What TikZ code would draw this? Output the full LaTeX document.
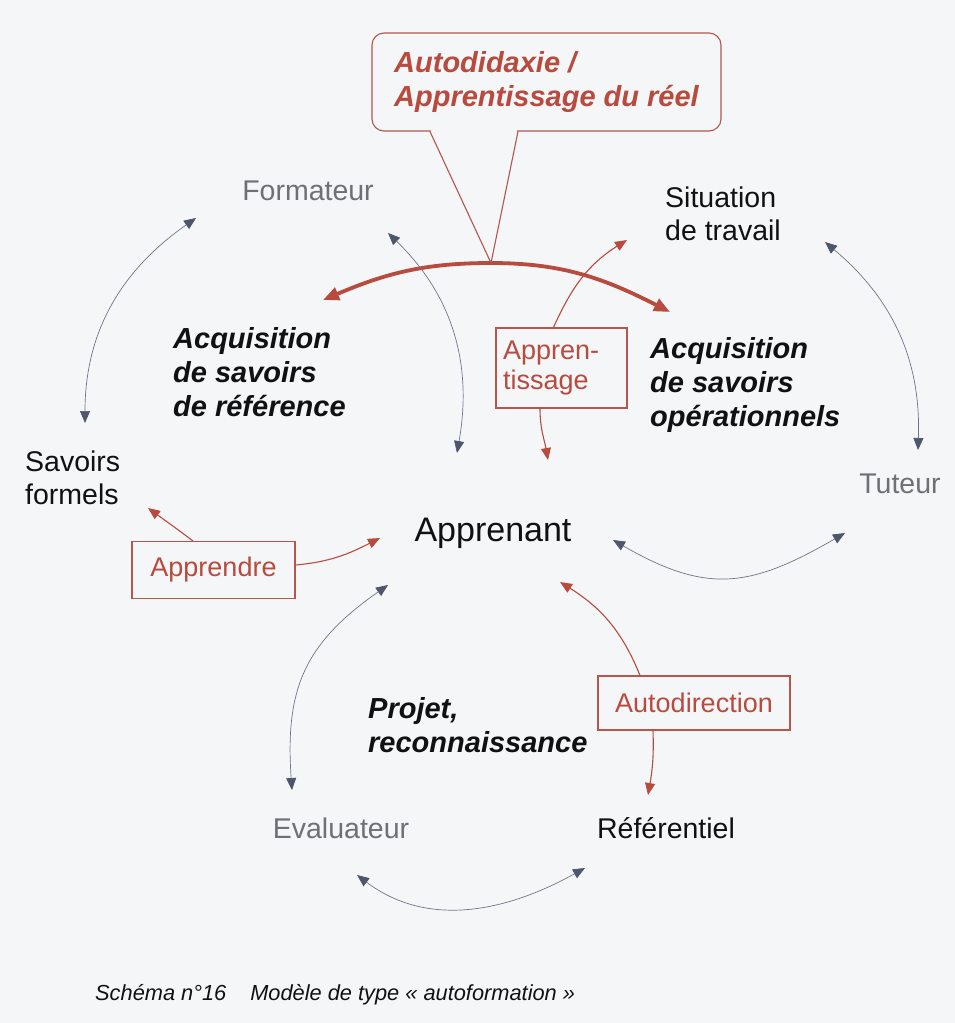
\documentclass[tikz,border=0pt]{standalone}
\usepackage{fontspec}
\setmainfont{Liberation Sans}
\usetikzlibrary{arrows.meta,calc}
\definecolor{bgcol}{HTML}{F4F6F8}
\definecolor{redc}{HTML}{B84A3E}
\definecolor{redbox}{HTML}{B5564C}
\definecolor{graytxt}{HTML}{707074}
\definecolor{grayline}{HTML}{707585}
\definecolor{graytip}{HTML}{4E566C}
\definecolor{ink}{HTML}{111111}
\begin{document}
\begin{tikzpicture}[x=1pt,y=1pt,
  lbl/.style={inner sep=0pt, font=\fontsize{28.5}{33}\selectfont, text=ink},
  glbl/.style={lbl, text=graytxt},
  theme/.style={inner sep=0pt, align=left, anchor=west, font=\fontsize{29}{34}\selectfont\bfseries\itshape, text=ink},
  rbox/.style={draw=redbox, line width=1.1pt, fill=bgcol, font=\fontsize{27}{30}\selectfont, text=redc, inner sep=0pt},
  link/.style={draw=grayline, line width=0.7pt, {Triangle[length=12pt,width=10pt,color=graytip]}-{Triangle[length=12pt,width=10pt,color=graytip]}},
  rlink/.style={draw=redc, line width=1.1pt, -{Triangle[length=12pt,width=10pt]}},
  bigarc/.style={draw=redc, line width=3.8pt, {Triangle[length=16pt,width=13pt]}-{Triangle[length=16pt,width=13pt]}},
  pointer/.style={draw=redbox, line width=1.1pt},
]
\useasboundingbox (0,0) rectangle (955,-1023);
\fill[bgcol] (0,0) rectangle (955,-1023);

% text labels
\node[glbl] (form) at (308,-191) {Formateur};
\node[lbl, align=left, anchor=west] (sit) at (665,-214) {Situation\\de travail};
\node[lbl, align=left, anchor=west] (sav) at (25,-478) {Savoirs\\formels};
\node[glbl] (tut) at (900,-484) {Tuteur};
\node[inner sep=0pt, font=\fontsize{34}{40}\selectfont, text=ink] (app) at (493,-533) {Apprenant};
\node[glbl] (eval) at (341,-828) {Evaluateur};
\node[lbl] (ref) at (666,-828) {Référentiel};

\node[theme] (acq1) at (173,-372) {Acquisition\\de savoirs\\de référence};
\node[theme] (acq2) at (650,-385) {Acquisition\\de savoirs\\opérationnels};
\node[theme] (proj) at (368,-725) {Projet,\\reconnaissance};

% thick red arc
\coordinate (apex) at (491,-263);
\coordinate (acqL) at (323,-300);
\coordinate (acqR) at (670,-312);
\draw[bigarc] (acqL) to[out=23,in=180] (apex) to[out=0,in=153] (acqR);

% callout
\node[draw=redbox, line width=1.1pt, rounded corners=12pt, fill=bgcol, minimum width=349pt, minimum height=98pt, inner sep=0pt, align=left, text=redc, font=\fontsize{29}{34}\selectfont\bfseries\itshape] (call) at (546.5,-82) {Autodidaxie /\\Apprentissage du réel};
\fill[bgcol] ([xshift=-115.5pt,yshift=1.5pt]call.south) rectangle ([xshift=-29.5pt,yshift=-1.5pt]call.south);
\draw[pointer] ([xshift=-116.5pt]call.south) -- (apex) -- ([xshift=-28.5pt]call.south);

% gray double arrows
\coordinate (f1) at (196,-218); \coordinate (s1) at (85,-423);
\draw[link] (f1) to[out=215,in=90] (s1);
\coordinate (f2) at (388,-233); \coordinate (a1) at (457,-453);
\draw[link] (f2) to[out=316,in=80] (a1);
\coordinate (sit1) at (825,-242); \coordinate (t1) at (918,-450);
\draw[link] (sit1) to[out=320,in=88] (t1);
\coordinate (a2) at (613,-540); \coordinate (t2) at (845,-533);
\draw[link] (a2) to[out=330,in=210,looseness=1.2] (t2);
\coordinate (a3) at (388,-585); \coordinate (e1) at (292,-790);
\draw[link] (a3) to[out=215,in=94,looseness=1.15] (e1);
\coordinate (e2) at (357,-875); \coordinate (r1) at (585,-868);
\draw[link] (e2) to[out=323,in=209] (r1);

% red boxes
\node[rbox, minimum width=131pt, minimum height=80pt, text width=117pt, align=left] (appr) at (561.5,-368) {Appren-\\tissage};
\node[rbox, minimum width=163pt, minimum height=57pt] (apd) at (213.5,-570) {Apprendre};
\node[rbox, minimum width=192pt, minimum height=54pt] (autod) at (694,-703) {Autodirection};

% red arrows
\coordinate (sitR) at (627,-240);
\draw[rlink] ([xshift=-8pt]appr.north) to[out=66,in=212] (sitR);
\coordinate (appR1) at (548,-460);
\draw[rlink] ([xshift=-21.5pt]appr.south) to[out=-90,in=100] (appR1);
\coordinate (savR) at (148,-508);
\draw[rlink] ([xshift=-20.5pt]apd.north) to[out=143,in=-36] (savR);
\coordinate (appR2) at (380,-538);
\draw[rlink] ([yshift=5pt]apd.east) to[out=5,in=207] (appR2);
\coordinate (appR3) at (560,-582);
\draw[rlink] ([xshift=-54pt]autod.north) to[out=112,in=-32] (appR3);
\coordinate (refR) at (648,-795);
\draw[rlink] ([xshift=-41pt]autod.south) to[out=-88,in=80] (refR);

% caption
\node[anchor=west, inner sep=0pt, font=\fontsize{21.8}{26}\selectfont\itshape, text=ink] (cap) at (95,-995) {Schéma n°16\hspace{24pt}Modèle de type « autoformation »};
\end{tikzpicture}
\end{document}
